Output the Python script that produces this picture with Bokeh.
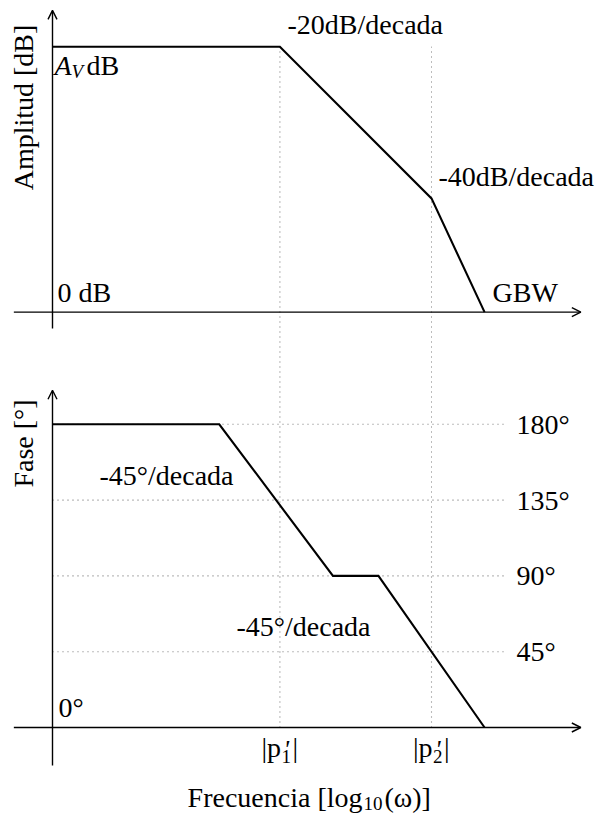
import math
from bokeh.plotting import figure
from bokeh.models import Range1d, Arrow, OpenHead
from bokeh.core.properties import value
from bokeh.embed import file_html
from bokeh.resources import INLINE

# ---------------- data (drawing units of the sketch) ----------------
freq_amp = [0.0, 3.0, 5.0, 5.7]          # log10(w) break points, amplitude
amp_units = [3.5, 3.5, 1.5, 0.0]         # amplitude (A_V at 3.5, 0 dB at 0)
freq_phase = [0.0, 2.2, 3.7, 4.3, 5.7]   # log10(w) break points, phase
phase_deg = [180, 180, 90, 90, 0]        # phase in degrees
pole_freqs = [3.0, 5.0]                  # |p'1|, |p'2|
pole_subs = ["1", "2"]
phase_ticks = [45, 90, 135, 180]
phase_tick_labels = ["45°", "90°", "135°", "180°"]

DEG_PER_UNIT = 45.0
AMP_OFFSET = 5.48       # vertical position of the amplitude panel's 0 dB line
U = 75.8                # px per drawing unit
W, H = 608, 819
FS = 28
BL_SHIFT = 9            # px correction for the alphabetic baseline
MID_SHIFT = 5           # px correction for rotated, middle-aligned labels

FONT = value("Liberation Serif")

p = figure(width=W, height=H,
           x_range=Range1d(-52 / U, (W - 52) / U),
           y_range=Range1d((727 - H) / U, 727 / U),
           x_axis_type=None, y_axis_type=None,
           toolbar_location=None, output_backend="svg",
           min_border=0, outline_line_color=None, title=None)
p.background_fill_color = "white"
p.border_fill_color = "white"


def X(px):
    return (px - 52) / U


def Y(py):
    return (727 - py) / U


def txt(x, y, s, size=FS, align="left", baseline="alphabetic", angle=0.0, style="normal"):
    if baseline == "alphabetic":
        y = y + BL_SHIFT / U
    elif angle:
        x = x - MID_SHIFT / U
    p.text(x=[x], y=[y], text=[s], text_font=FONT, text_font_size=f"{size}px",
           text_align=align, text_baseline=baseline, angle=angle,
           text_font_style=style, text_color="black")


phase_y = [d / DEG_PER_UNIT for d in phase_deg]
amp_y = [a + AMP_OFFSET for a in amp_units]
top_level = AMP_OFFSET + amp_units[0]

# dotted guides
for f in pole_freqs:
    p.line([f, f], [0, top_level], line_color="#7a7a7a", line_width=1.1, line_dash="1 4")
for t in phase_ticks:
    p.line([0, 5.95], [t / DEG_PER_UNIT] * 2, line_color="#7a7a7a", line_width=1.1, line_dash="1 4")

# axes with arrows
def axis_arrow(x0, y0, x1, y1):
    p.add_layout(Arrow(end=OpenHead(size=9, line_width=1.4, line_color="black"),
                       x_start=x0, y_start=y0, x_end=x1, y_end=y1,
                       line_width=1.4, line_color="black"))

axis_arrow(-0.51, AMP_OFFSET, 6.97, AMP_OFFSET)
axis_arrow(0, AMP_OFFSET - 0.215, 0, AMP_OFFSET + 3.98)
axis_arrow(-0.51, 0, 6.97, 0)
axis_arrow(0, -0.5, 0, 4.45)

# curves
p.line(freq_amp, amp_y, line_color="black", line_width=2.1, line_join="miter")
p.line(freq_phase, phase_y, line_color="black", line_width=2.1, line_join="miter")

# ---------- amplitude panel texts ----------
txt(X(287), Y(33), "-20dB/decada")
txt(X(438), Y(185), "-40dB/decada")
txt(X(57), Y(301), "0 dB")
txt(X(492), Y(301), "GBW")
txt(X(54), Y(74), "A", style="italic")
txt(X(71), Y(80), "V", size=19, style="italic")
txt(X(86), Y(74), "dB")
txt(X(28), Y(107), "Amplitud [dB]", align="center", baseline="middle", angle=math.pi / 2)

# ---------- phase panel texts ----------
for t, lab in zip(phase_ticks, phase_tick_labels):
    txt(X(516), t / DEG_PER_UNIT - 9 / U, lab)
txt(X(58), Y(716), "0°")
txt(X(99), Y(484), "-45°/decada")
txt(X(236), Y(635), "-45°/decada")
txt(X(28), Y(443), "Fase [°]", align="center", baseline="middle", angle=math.pi / 2)

for f, s in zip(pole_freqs, pole_subs):
    L = f - 18.5 / U
    txt(L, Y(756), "|p")
    txt(L + 22 / U, Y(758), "'", size=26, style="italic")
    txt(L + 20 / U, Y(765), s, size=19)
    txt(L + 31 / U, Y(756), "|")

# x-axis title
txt(X(362), Y(806), "Frecuencia [log", align="right")
txt(X(363), Y(812), "10", size=19)
txt(X(384), Y(806), "(ω)]")

open("out.html", "w").write(file_html(p, INLINE))
